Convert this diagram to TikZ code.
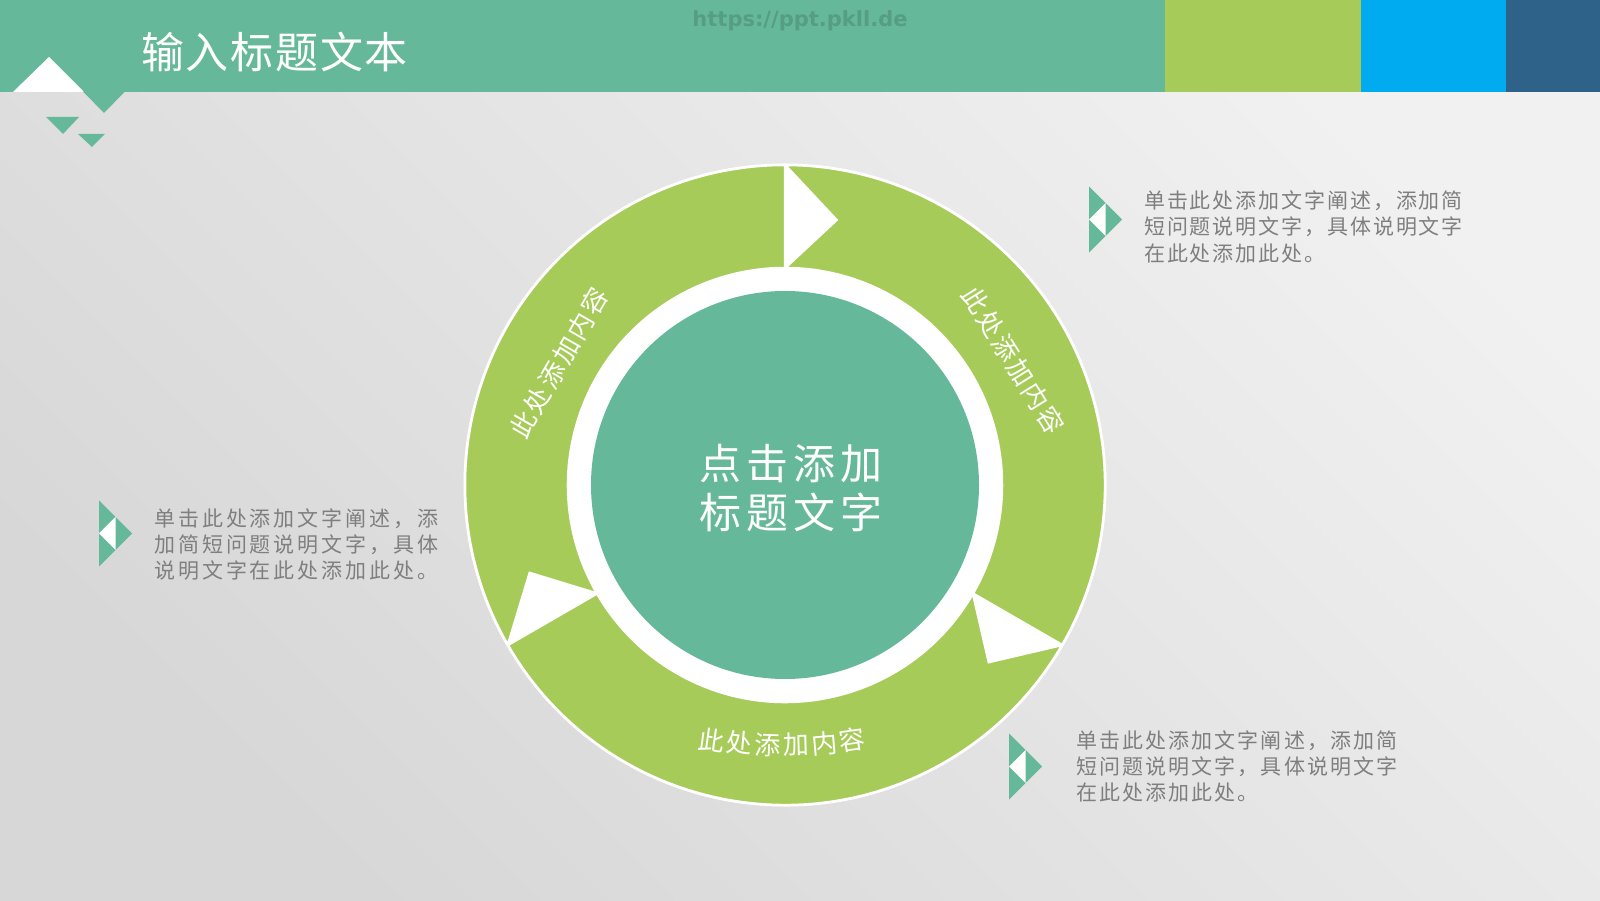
\documentclass[tikz,border=0pt]{standalone}
\usepackage{fontspec}
\usetikzlibrary{calc}
\newfontfamily\cjk{Noto Sans CJK SC}
\newfontfamily\webfont{DejaVu Sans}
\definecolor{cgreen}{HTML}{66B89A}
\definecolor{clime}{HTML}{A6CB59}
\definecolor{cblue}{HTML}{00ABEF}
\definecolor{cnavy}{HTML}{2E6289}
\definecolor{cgrey}{HTML}{7F7F7F}
\definecolor{cmark}{HTML}{559E83}
\definecolor{bglight}{HTML}{F1F1F1}
\definecolor{bgdark}{HTML}{D7D7D7}
\tikzset{
  bodytext/.style={anchor=west, inner sep=0pt, align=left, text=cgrey},
  ringtext/.style={inner sep=0pt, text=white, font=\cjk\fontsize{26}{30}\selectfont\addfontfeature{LetterSpace=9}},
  ringchar/.style={inner sep=0pt, text=white, font=\cjk\fontsize{26}{30}\selectfont},
  ringseg/.style={fill=clime, draw=white, line width=2.5pt, line join=miter},
  sideicon/.pic={
    \fill[cgreen] (0,33) -- (33,0) -- (0,-33) -- cycle;
    \fill[white] (0,0) -- (16.5,16.5) -- (16.5,-16.5) -- cycle;
  }
}
\begin{document}
\begin{tikzpicture}[x=1pt,y=1pt]
\useasboundingbox (0,0) rectangle (1600,900);
% background
\shade[top color=bglight, bottom color=bgdark, shading angle=-45] (0,0) rectangle (1600,900);
% header
\fill[cgreen] (0,808) rectangle (1165,900);
\fill[clime] (1165,808) rectangle (1361,900);
\fill[cblue] (1361,808) rectangle (1506,900);
\fill[cnavy] (1506,808) rectangle (1600,900);
\fill[white] (13,808) -- (49,843) -- (84,808) -- cycle;
\fill[cgreen] (83,808.5) -- (104,787) -- (125,808.5) -- cycle;
\fill[cgreen] (46,783) -- (79,783) -- (63,766) -- cycle;
\fill[cgreen] (78,766) -- (105,766) -- (92,753) -- cycle;
\node[anchor=west, inner sep=0pt, text=white, font=\cjk\fontsize{43}{50}\selectfont\addfontfeature{LetterSpace=4}] (title) at (141,848) {输入标题文本};
\node[inner sep=0pt, text=cmark, font=\webfont\bfseries\fontsize{21}{25}\selectfont] (mark) at (800,879) {https://ppt.pkll.de};
% ring
\coordinate (c) at (785,415);
\fill[white] (c) circle (321.5);
\foreach \a in {90,-30,210}{
  \path[ringseg] ($(c)+(\a:320)$) -- ($(c)+(\a-11:270)$) -- ($(c)+(\a:217)$)
    arc[start angle=\a, end angle=\a-120, radius=217]
    -- ($(c)+(\a-120:320)$)
    arc[start angle=\a-120, end angle=\a, radius=320] -- cycle;
}
\fill[white] (c) circle (217);
\fill[cgreen] (c) circle (194);
\node[inner sep=0pt, align=center, text=white, font=\cjk\fontsize{42}{49}\selectfont\addfontfeature{LetterSpace=12}] (centre) at (791,412) {点击添加\\标题文字};
% ring labels
\node[ringtext, rotate=60] (lefttext) at (559,537) {此处添加内容};
\node[ringtext, rotate=-58] (righttext) at (1013,540) {此处添加内容};
\coordinate (bc) at (782,655);
\foreach \ch [count=\i from 0] in {此,处,添,加,内,容}{
  \pgfmathsetmacro\ang{-98.1+3.24*\i}
  \node[ringchar, rotate=\ang+90] (b\i) at ($(bc)+(\ang:500)$) {\ch};
}
% side texts
\pic (icon1) at (1089,680.5) {sideicon};
\node[bodytext, font=\cjk\fontsize{21}{26.5}\selectfont\addfontfeature{LetterSpace=9}] (text1) at (1144,673.5) {单击此处添加文字阐述，添加简\\短问题说明文字，具体说明文字\\在此处添加此处。};
\pic (icon2) at (99,366.5) {sideicon};
\node[bodytext, font=\cjk\fontsize{21}{26}\selectfont\addfontfeature{LetterSpace=14}] (text2) at (154,355) {单击此处添加文字阐述，添\\加简短问题说明文字，具体\\说明文字在此处添加此处。};
\pic (icon3) at (1009,133.5) {sideicon};
\node[bodytext, font=\cjk\fontsize{21}{26}\selectfont\addfontfeature{LetterSpace=10}] (text3) at (1076,133.5) {单击此处添加文字阐述，添加简\\短问题说明文字，具体说明文字\\在此处添加此处。};
\end{tikzpicture}
\end{document}
